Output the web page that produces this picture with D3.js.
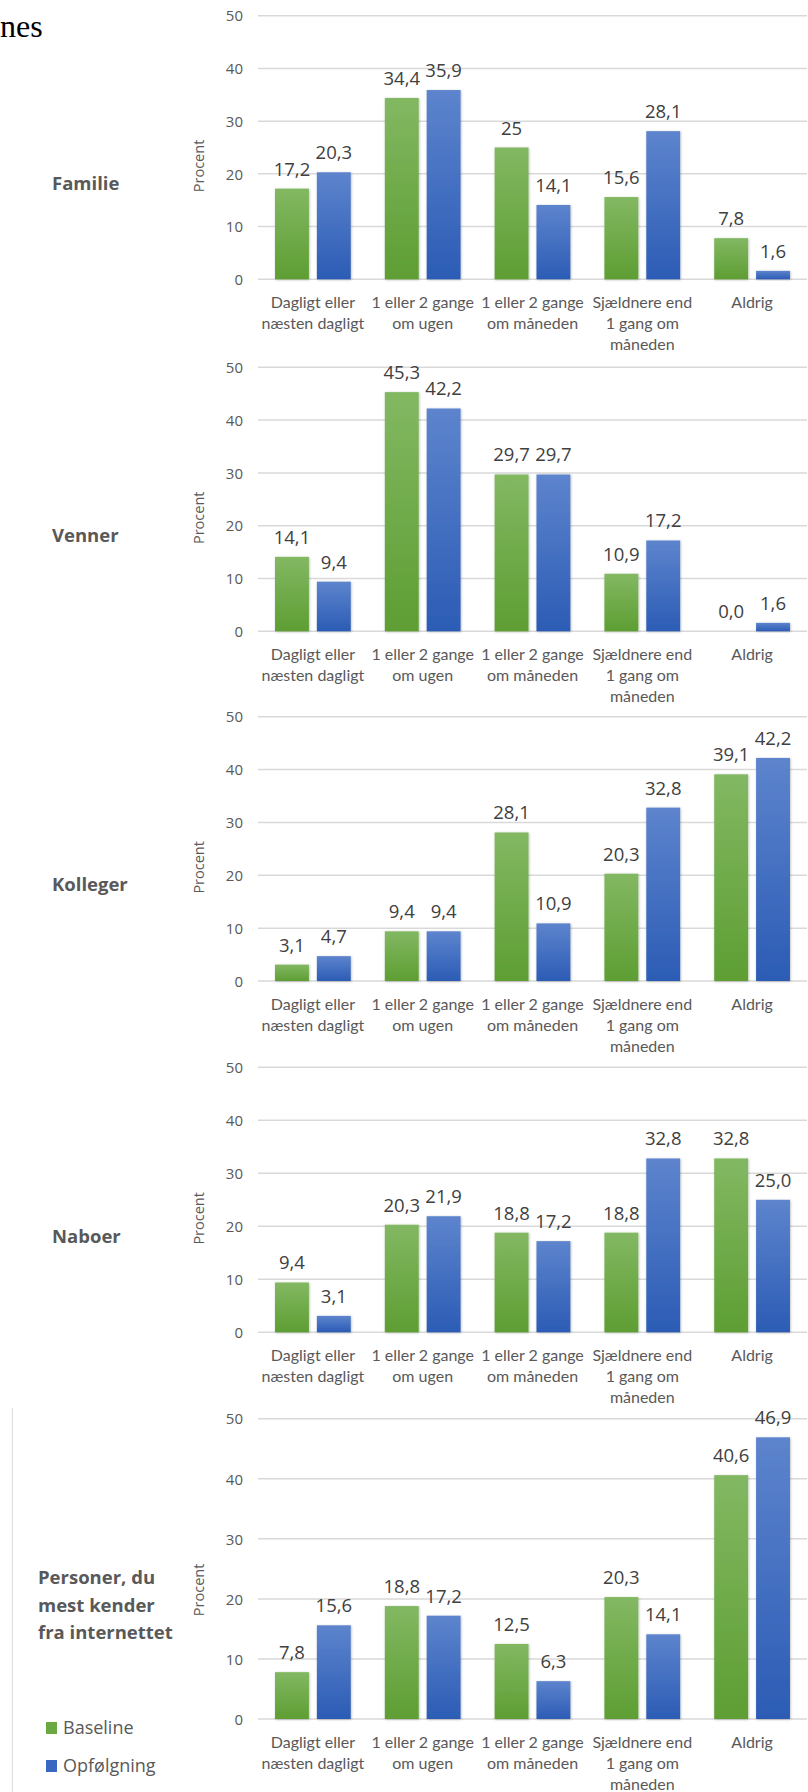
<!DOCTYPE html>
<html>
<head>
<meta charset="utf-8">
<script src="https://cdn.jsdelivr.net/npm/d3@7/dist/d3.min.js"></script>
<style>
  html, body { margin: 0; padding: 0; background: #fff; }
  svg { display: block; }
</style>
</head>
<body>
<svg id="chart" width="808" height="1792"></svg>
<script>
// Categories on the x axis (line breaks marked with "|")
const categories = [
  "Dagligt eller|næsten dagligt",
  "1 eller 2 gange|om ugen",
  "1 eller 2 gange|om måneden",
  "Sjældnere end|1 gang om|måneden",
  "Aldrig"
];
const seriesNames = ["Baseline", "Opfølgning"];
const panelTitles = ["Familie", "Venner", "Kolleger", "Naboer", "Personer, du|mest kender|fra internettet"];
const yTicks = [0, 10, 20, 30, 40, 50];

// Percentages as printed (Danish decimal comma)
const familieBaseline   = ["17,2", "34,4", "25", "15,6", "7,8"];
const familieOpfolgning = ["20,3", "35,9", "14,1", "28,1", "1,6"];
const vennerBaseline    = ["14,1", "45,3", "29,7", "10,9", "0,0"];
const vennerOpfolgning  = ["9,4", "42,2", "29,7", "17,2", "1,6"];
const kollegerBaseline  = ["3,1", "9,4", "28,1", "20,3", "39,1"];
const kollegerOpfolgning= ["4,7", "9,4", "10,9", "32,8", "42,2"];
const naboerBaseline    = ["9,4", "20,3", "18,8", "18,8", "32,8"];
const naboerOpfolgning  = ["3,1", "21,9", "17,2", "32,8", "25,0"];
const internetBaseline  = ["7,8", "18,8", "12,5", "20,3", "40,6"];
const internetOpfolgning= ["15,6", "17,2", "6,3", "14,1", "46,9"];

const panelSeries = [
  [familieBaseline, familieOpfolgning],
  [vennerBaseline, vennerOpfolgning],
  [kollegerBaseline, kollegerOpfolgning],
  [naboerBaseline, naboerOpfolgning],
  [internetBaseline, internetOpfolgning]
];

// Vertical placement of each panel: y of the 50 line and of the 0 line
const panelLayout = [
  { top: 15.7,   zero: 279.3 },
  { top: 367.3,  zero: 631.3 },
  { top: 716.7,  zero: 981 },
  { top: 1067.3, zero: 1332.3 },
  { top: 1418.7, zero: 1719 }
];

const toNum = s => +s.replace(",", ".");

const svg = d3.select("#chart");
const defs = svg.append("defs");

function addGradient(id, top, bottom) {
  const g = defs.append("linearGradient").attr("id", id)
    .attr("x1", 0).attr("y1", 0).attr("x2", 0).attr("y2", 1);
  g.append("stop").attr("offset", "0%").attr("stop-color", top);
  g.append("stop").attr("offset", "100%").attr("stop-color", bottom);
}
addGradient("gradBaseline", "#82b862", "#5e9e33");
addGradient("gradOpf", "#5d84cd", "#2c5cb5");

const shadow = defs.append("filter").attr("id", "barShadow")
  .attr("x", "-20%").attr("y", "-20%").attr("width", "140%").attr("height", "140%");
shadow.append("feDropShadow").attr("dx", 0.6).attr("dy", 0.6)
  .attr("stdDeviation", 1.2).attr("flood-color", "#000").attr("flood-opacity", 0.28);

const fills = ["url(#gradBaseline)", "url(#gradOpf)"];
const legendColors = ["#6aa843", "#3a68c0"];

const plotLeft = 258, plotRight = 807;
const x0 = d3.scaleBand().domain(d3.range(categories.length))
  .range([plotLeft, plotRight]).paddingInner(0.31).paddingOuter(0.155);
const x1 = d3.scaleBand().domain(d3.range(seriesNames.length))
  .range([0, x0.bandwidth()]).paddingInner(0.19);

const greyText = "#595959";

// Tail of the page heading above the charts
svg.append("text")
  .attr("x", 0).attr("y", 37)
  .attr("font-family", "'Liberation Serif', 'Times New Roman', serif")
  .attr("font-size", 32).attr("fill", "#000")
  .text("nes");

panelLayout.forEach((lay, pi) => {
  const y = d3.scaleLinear().domain([0, 50]).range([lay.zero, lay.top]);
  const g = svg.append("g");

  // Gridlines
  g.selectAll("line.grid").data(yTicks).join("line")
    .attr("x1", plotLeft).attr("x2", plotRight)
    .attr("y1", d => y(d)).attr("y2", d => y(d))
    .attr("stroke", "#d9d9d9").attr("stroke-width", 1.5);

  // Y axis tick labels
  const yAxis = d3.axisLeft(y).tickValues(yTicks).tickSize(0).tickPadding(0)
    .tickFormat(d3.format("d"));
  const ax = g.append("g").attr("transform", `translate(243,0)`).call(yAxis);
  ax.select(".domain").remove();
  ax.selectAll("text")
    .attr("font-family", "'Open Sans', sans-serif")
    .attr("font-size", 15).attr("fill", greyText).attr("dy", "0.35em");

  // Axis title
  const h = lay.zero - lay.top;
  g.append("text")
    .attr("transform", `translate(199,${lay.top + 0.57 * h}) rotate(-90)`)
    .attr("text-anchor", "middle").attr("dy", "0.35em")
    .attr("font-family", "'Open Sans', sans-serif")
    .attr("font-size", 14.5).attr("fill", greyText)
    .text("Procent");

  // Bars
  const series = panelSeries[pi];
  const rows = [];
  series.forEach((vals, si) => vals.forEach((s, ci) => rows.push({ si, ci, label: s, v: toNum(s) })));

  g.selectAll("rect.bar").data(rows).join("rect")
    .attr("x", d => x0(d.ci) + x1(d.si))
    .attr("width", x1.bandwidth())
    .attr("y", d => y(d.v))
    .attr("height", d => y(0) - y(d.v))
    .attr("fill", d => fills[d.si])
    .attr("filter", d => d.v > 0 ? "url(#barShadow)" : null);

  // Value labels
  g.selectAll("text.val").data(rows).join("text")
    .attr("x", d => x0(d.ci) + x1(d.si) + x1.bandwidth() / 2)
    .attr("y", d => y(d.v) - 13)
    .attr("text-anchor", "middle")
    .attr("font-family", "'Open Sans', sans-serif")
    .attr("font-size", 18.5).attr("fill", "#404040")
    .text(d => d.label);

  // Category labels
  const cat = g.selectAll("text.cat").data(categories).join("text")
    .attr("text-anchor", "middle")
    .attr("font-family", "Lato, sans-serif")
    .attr("font-size", 16).attr("fill", greyText);
  cat.each(function (c, ci) {
    const t = d3.select(this);
    c.split("|").forEach((line, li) => {
      t.append("tspan")
        .attr("x", x0(ci) + x0.bandwidth() / 2)
        .attr("y", lay.zero + 23.5 + li * 21)
        .attr("dy", "0.35em")
        .text(line);
    });
  });

  // Panel title
  const lines = panelTitles[pi].split("|");
  const tx = lines.length > 1 ? 38 : 52;
  const lineH = 27.5;
  const midY = lines.length > 1 ? lay.zero - 113.5 : lay.zero - 96;
  const title = g.append("text")
    .attr("font-family", "'Open Sans', sans-serif")
    .attr("font-weight", 700)
    .attr("font-size", 18.5).attr("fill", greyText);
  lines.forEach((line, li) => {
    title.append("tspan")
      .attr("x", tx)
      .attr("y", midY + (li - (lines.length - 1) / 2) * lineH)
      .attr("dy", "0.35em")
      .text(line);
  });
});

// Left border of the last panel's frame
svg.append("line")
  .attr("x1", 12.3).attr("x2", 12.3).attr("y1", 1408).attr("y2", 1792)
  .attr("stroke", "#d9d9d9").attr("stroke-width", 1);

// Legend
const legend = svg.append("g");
const legendY = [1728, 1766];
seriesNames.forEach((name, i) => {
  legend.append("rect")
    .attr("x", 46).attr("y", legendY[i] - 6)
    .attr("width", 11).attr("height", 12)
    .attr("fill", legendColors[i]);
  legend.append("text")
    .attr("x", 63).attr("y", legendY[i]).attr("dy", "0.35em")
    .attr("font-family", "'Open Sans', sans-serif")
    .attr("font-size", 18).attr("fill", greyText)
    .text(name);
});
</script>
</body>
</html>
